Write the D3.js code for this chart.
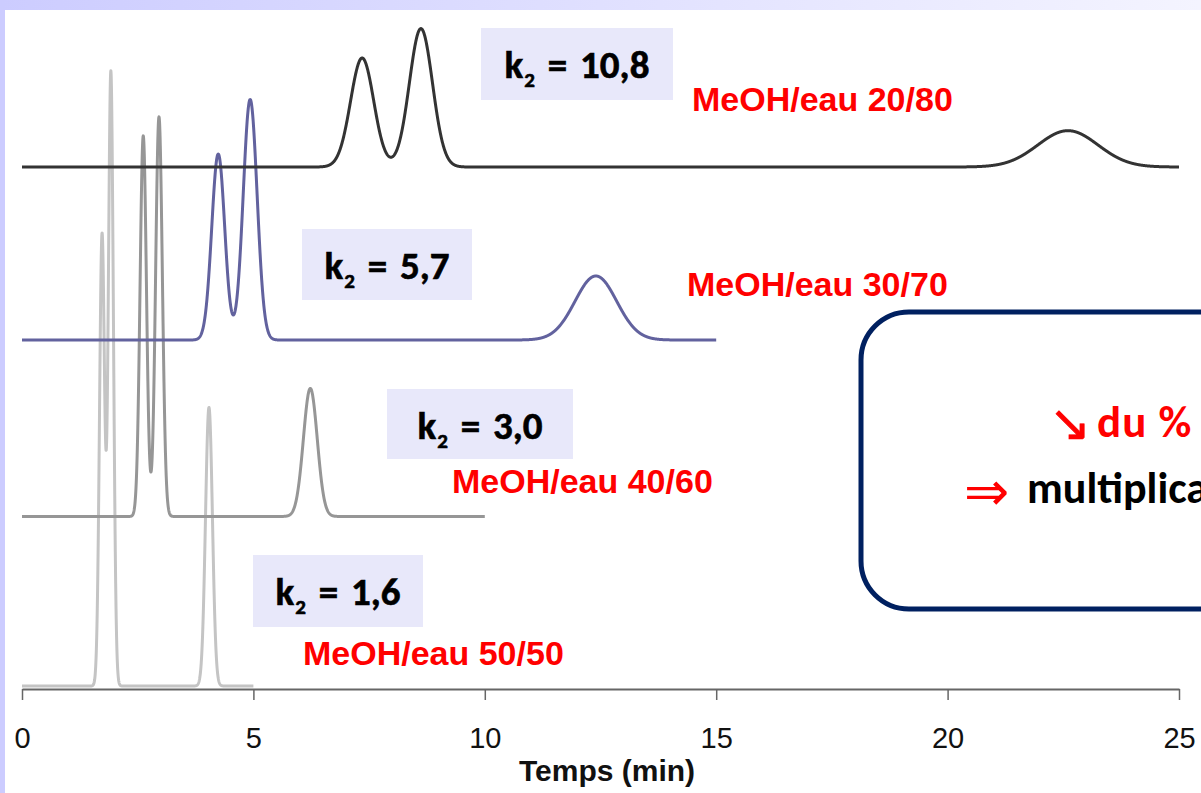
<!DOCTYPE html>
<html><head><meta charset="utf-8">
<script src="https://cdn.jsdelivr.net/npm/d3@7"></script>
<style>
html,body{margin:0;padding:0;background:#fff;overflow:hidden}
svg{display:block}
</style></head><body>
<svg id="c" width="1201" height="793"></svg>
<script>
// ---- data ----
const series = ["MeOH/eau 50/50", "MeOH/eau 40/60", "MeOH/eau 30/70", "MeOH/eau 20/80"];
const kValues = ["1,6", "3,0", "5,7", "10,8"];
const runEnd = [5, 10, 15, 25];            // end of each run (min)
const baselineOffset = [0, 0.98, 2, 3];    // vertical offset of each trace (signal units)
const peakTimes   = [[1.73, 1.92, 4.04], [2.62, 2.96, 6.23], [4.24, 4.93, 12.4], [7.35, 8.62, 22.6]];
const peakHeights = [[2.61, 3.55, 1.61], [2.20, 2.31, 0.74], [1.075, 1.39, 0.37], [0.63, 0.80, 0.21]];
const peakWidths  = [[0.055, 0.055, 0.075], [0.069, 0.073, 0.15], [0.14, 0.15, 0.45], [0.25, 0.25, 0.65]];
const xTicks = [0, 5, 10, 15, 20, 25];
const xTitle = "Temps (min)";
const note1 = ["↘", "du % de MeOH"];
const note2 = ["⇒", "multiplication de k"];

// ---- styles / layout ----
const colors = ["#c4c4c4", "#969696", "#62629e", "#333333"];
const labelPos = [[303, 665], [452, 493], [687, 296], [692, 111]];
const boxPos = [[253, 555, 170, 72], [387, 389, 186, 70], [302, 229, 170, 71], [481, 28, 192, 72]];
const kFont = "Carlito, Calibri, Lato, sans-serif";
const aFont = "'Liberation Sans', Arial, sans-serif";

const svg = d3.select("#c");
const defs = svg.append("defs");
const g = defs.append("linearGradient").attr("id", "topband").attr("x1", "0").attr("x2", "1").attr("y1", "0").attr("y2", "0");
g.append("stop").attr("offset", "0").attr("stop-color", "#ccccff");
g.append("stop").attr("offset", "1").attr("stop-color", "#f4f4ff");

svg.append("rect").attr("width", 1201).attr("height", 793).attr("fill", "#fff");
svg.append("rect").attr("x", 0).attr("y", 0).attr("width", 1201).attr("height", 10).attr("fill", "url(#topband)");
svg.append("rect").attr("x", 0).attr("y", 0).attr("width", 5).attr("height", 793).attr("fill", "#ccccff");

const x = d3.scaleLinear().domain([0, 25]).range([22, 1179]);
const y = d3.scaleLinear().domain([0, 3]).range([686, 167]);

// axis
const axis = svg.append("g").attr("transform", "translate(0,689)")
  .call(d3.axisBottom(x).tickValues(xTicks).tickSize(11).tickSizeOuter(0).tickFormat(d3.format("d")));
axis.select(".domain").attr("stroke", "#666").attr("stroke-width", 2);
axis.selectAll(".tick line").attr("stroke", "#666").attr("stroke-width", 1.5);
axis.selectAll(".tick text").attr("y", 59).attr("dy", 0)
  .attr("font-family", aFont).attr("font-size", 29).attr("fill", "#111");
svg.append("text").attr("x", 607).attr("y", 781).attr("text-anchor", "middle")
  .attr("font-family", aFont).attr("font-weight", "bold").attr("font-size", 30)
  .attr("fill", "#111").text(xTitle);

// traces
const line = d3.line().x(d => x(d[0])).y(d => y(d[1]));
series.forEach((s, i) => {
  const ts = d3.range(0, runEnd[i] + 1e-9, 0.004);
  const pts = ts.map(t => {
    let v = baselineOffset[i];
    peakTimes[i].forEach((tr, j) => {
      const z = (t - tr) / peakWidths[i][j];
      v += peakHeights[i][j] * Math.exp(-0.5 * z * z);
    });
    return [t, v];
  });
  svg.append("path").datum(pts).attr("d", line).attr("fill", "none")
    .attr("stroke", colors[i]).attr("stroke-width", 3).attr("stroke-linejoin", "round");
});

// k2 boxes and labels
series.forEach((s, i) => {
  const b = boxPos[i];
  svg.append("rect").attr("x", b[0]).attr("y", b[1]).attr("width", b[2]).attr("height", b[3]).attr("fill", "#e8e8fa");
  const t = svg.append("text").attr("x", b[0] + b[2] / 2).attr("y", b[1] + 50).attr("text-anchor", "middle")
    .attr("font-family", kFont).attr("font-weight", "bold").attr("font-size", 39)
    .attr("word-spacing", 4).attr("fill", "#000").attr("stroke", "#000").attr("stroke-width", 0.6);
  t.append("tspan").text("k");
  t.append("tspan").attr("dy", 9).attr("dx", 1).attr("font-size", 21).text("2");
  t.append("tspan").attr("dy", -9).text(" = " + kValues[i]);
  svg.append("text").attr("x", labelPos[i][0]).attr("y", labelPos[i][1])
    .attr("font-family", aFont).attr("font-weight", "bold").attr("font-size", 34)
    .attr("fill", "#ff0000").text(s);
});

// rounded note box
svg.append("rect").attr("x", 861).attr("y", 312).attr("width", 420).attr("height", 297).attr("rx", 48).attr("ry", 48)
  .attr("fill", "#fff").attr("stroke", "#002060").attr("stroke-width", 5);
svg.append("text").attr("x", 1049).attr("y", 440).attr("font-family", "'DejaVu Sans', sans-serif")
  .attr("font-size", 50).attr("fill", "#ff0000").attr("stroke", "#ff0000").attr("stroke-width", 0.8).text(note1[0]);
svg.append("text").attr("x", 1097).attr("y", 437).attr("font-family", kFont).attr("font-weight", "bold")
  .attr("font-size", 45).attr("letter-spacing", 1).attr("fill", "#ff0000").text(note1[1]);
svg.append("text").attr("x", 964).attr("y", 510).attr("font-family", "'DejaVu Sans', sans-serif")
  .attr("font-size", 54).attr("fill", "#ff0000").text(note2[0]);
svg.append("text").attr("x", 1027).attr("y", 503).attr("font-family", kFont).attr("font-weight", "bold")
  .attr("font-size", 44).attr("fill", "#000").text(note2[1]);
</script>
</body></html>
